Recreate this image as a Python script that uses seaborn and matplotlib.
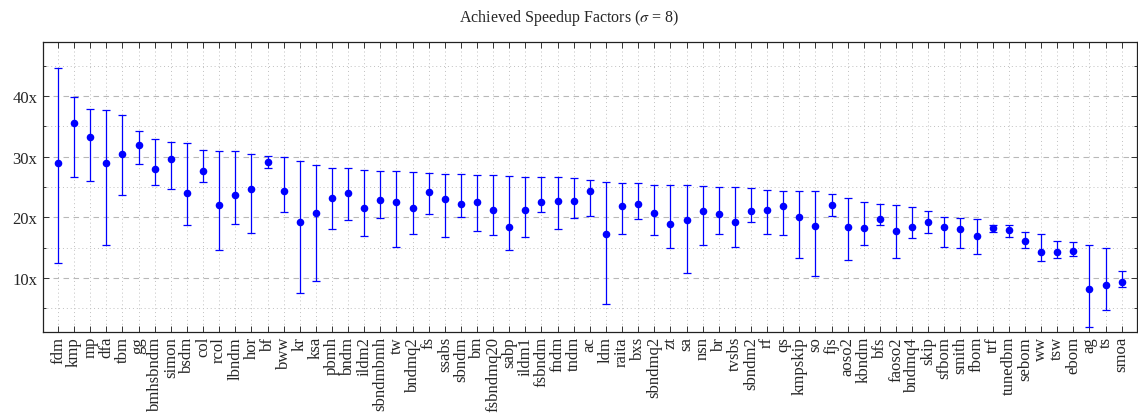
import numpy as np
import pandas as pd
import matplotlib
matplotlib.use("Agg")
import matplotlib.pyplot as plt
from matplotlib.ticker import MultipleLocator, FuncFormatter
import seaborn as sns

sns.set_theme(style="white")
plt.rcParams['font.family'] = ['Liberation Serif', 'DejaVu Serif']
plt.rcParams['mathtext.fontset'] = 'stix'

algorithms = ["fdm", "kmp", "mp", "dfa", "tbm", "gg", "bmhsbndm", "simon", "bsdm", "col",
              "rcol", "lbndm", "hor", "bf", "bww", "kr", "ksa", "pbmh", "bndm", "ildm2",
              "sbndmbmh", "tw", "bndmq2", "fs", "ssabs", "sbndm", "bm", "fsbndmq20", "sabp", "ildm1",
              "fsbndm", "fndm", "tndm", "ac", "ldm", "raita", "bxs", "sbndmq2", "zt", "sa",
              "nsn", "br", "tvsbs", "sbndm2", "rf", "qs", "kmpskip", "so", "fjs", "aoso2",
              "kbndm", "bfs", "faoso2", "bndmq4", "skip", "sfbom", "smith", "fbom", "trf", "tunedbm",
              "sebom", "ww", "tsw", "ebom", "ag", "ts", "smoa"]

speedup = [29.05, 35.6, 33.3, 29.05, 30.4, 32.0, 28.0, 29.7, 24.1, 27.6,
           22.0, 23.7, 24.7, 29.2, 24.4, 19.3, 20.8, 23.2, 24.0, 21.6,
           22.8, 22.5, 21.6, 24.2, 23.0, 22.2, 22.6, 21.3, 18.5, 21.3,
           22.5, 22.7, 22.7, 24.3, 17.2, 21.9, 22.2, 20.7, 18.9, 19.6,
           21.1, 20.6, 19.2, 21.0, 21.3, 21.9, 20.0, 18.6, 22.1, 18.5,
           18.3, 19.8, 17.8, 18.5, 19.3, 18.4, 18.1, 16.9, 18.3, 18.0,
           16.1, 14.3, 14.3, 14.5, 8.2, 8.8, 9.4]

upper = [44.6, 39.8, 37.9, 37.7, 36.8, 34.2, 33.0, 32.5, 32.3, 31.1,
         31.0, 31.0, 30.5, 30.2, 29.9, 29.3, 28.7, 28.2, 28.1, 27.9,
         27.7, 27.6, 27.5, 27.4, 27.1, 27.1, 27.0, 27.0, 26.8, 26.7,
         26.6, 26.6, 26.5, 26.1, 25.8, 25.6, 25.6, 25.4, 25.3, 25.3,
         25.2, 25.0, 25.0, 24.9, 24.5, 24.4, 24.3, 24.3, 23.9, 23.2,
         22.5, 22.2, 22.1, 21.7, 21.1, 20.0, 19.9, 19.7, 18.7, 18.7,
         17.6, 17.2, 16.1, 15.9, 15.5, 15.0, 11.1]

lower = [12.5, 26.7, 26.0, 15.4, 23.7, 28.8, 25.4, 24.7, 18.7, 25.8,
         14.7, 18.9, 17.5, 28.2, 20.9, 7.5, 9.5, 18.1, 19.6, 16.9,
         19.9, 15.2, 17.2, 20.6, 16.7, 20.0, 17.8, 17.1, 14.6, 16.7,
         20.9, 18.1, 19.9, 20.2, 5.7, 17.3, 19.7, 17.1, 14.9, 10.9,
         15.5, 17.2, 15.1, 19.3, 17.3, 17.1, 13.3, 10.4, 20.2, 13.0,
         15.5, 18.7, 13.4, 16.6, 17.4, 15.2, 15.0, 14.0, 17.6, 16.7,
         15.0, 12.8, 13.3, 13.6, 1.9, 4.8, 8.6]

df = pd.DataFrame({"algorithm": algorithms, "speedup": speedup,
                   "upper": upper, "lower": lower})

fig = plt.figure(figsize=(11.38, 4.14), dpi=100)
ax = fig.add_axes([0.0378, 0.196, 0.961, 0.700])

blue = "#0000ff"
pos = np.arange(len(df))
ax.errorbar(pos, df["speedup"],
            yerr=[df["speedup"] - df["lower"], df["upper"] - df["speedup"]],
            fmt="none", ecolor=blue, elinewidth=0.9, capsize=2.6, capthick=0.9, zorder=3)
sns.scatterplot(data=df, x="algorithm", y="speedup", color=blue, s=30,
                edgecolor=blue, linewidth=0, ax=ax, zorder=4)

ax.set_xlim(-0.93, len(df) - 1 + 0.93)
ax.set_ylim(1.15, 48.9)
ax.yaxis.set_major_locator(MultipleLocator(10))
ax.yaxis.set_minor_locator(MultipleLocator(5))
ax.yaxis.set_major_formatter(FuncFormatter(lambda v, p: f"{int(v)}x"))
ax.set_xticks(pos)
ax.set_xticklabels(df["algorithm"], rotation=90, fontsize=12)
ax.tick_params(axis="y", labelsize=12)
ax.set_xlabel("")
ax.set_ylabel("")

ax.grid(axis="y", which="major", linestyle=(0, (5, 4)), color="#b8b8b8", linewidth=0.8)
ax.grid(axis="y", which="minor", linestyle=(0, (1, 3)), color="#c0c0c0", linewidth=0.7)
ax.grid(axis="x", which="major", linestyle=(0, (1, 3)), color="#c0c0c0", linewidth=0.7)
ax.set_axisbelow(True)

ax.tick_params(which="both", direction="in", top=True, right=True, bottom=True, left=True,
               color="#333333", width=0.7)
ax.tick_params(which="major", length=4)
ax.tick_params(which="minor", length=2.5)
ax.tick_params(axis="x", which="major", pad=3)
ax.tick_params(axis="y", which="major", pad=4)
for s in ax.spines.values():
    s.set_color("#222222")
    s.set_linewidth(0.9)

fig.text(0.5, 1 - 18 / 414, r"Achieved Speedup Factors ($\sigma$ = 8)", fontsize=11.5,
         ha="center", va="center")

fig.savefig("out.png", dpi=100)
